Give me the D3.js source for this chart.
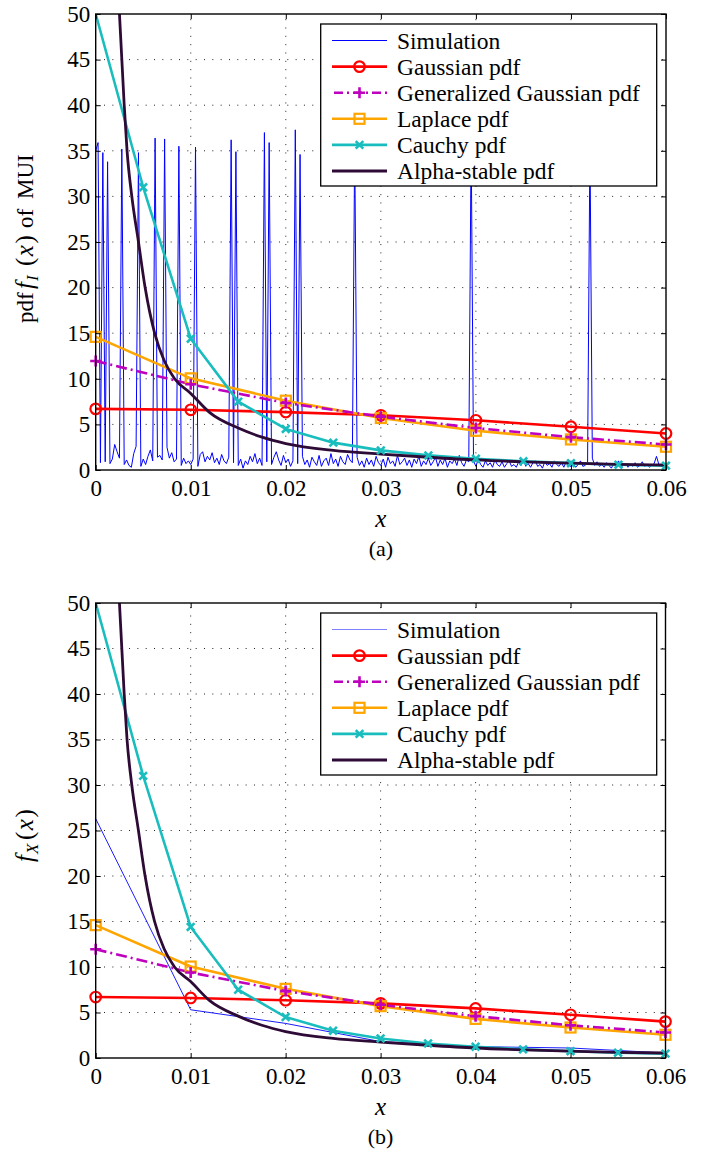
<!DOCTYPE html>
<html><head><meta charset="utf-8">
<script src="https://cdn.jsdelivr.net/npm/d3@7"></script>
<style>
html,body{margin:0;padding:0;background:#fff;}
svg{display:block;}
</style></head><body>
<svg id="chart" width="710" height="1157"></svg>
<script>
// ---------------- data ----------------
const xTicks = [0, 0.01, 0.02, 0.03, 0.04, 0.05, 0.06];
const yTicks = [0, 5, 10, 15, 20, 25, 30, 35, 40, 45, 50];
const legendNames = ["Simulation", "Gaussian pdf", "Generalized Gaussian pdf", "Laplace pdf", "Cauchy pdf", "Alpha-stable pdf"];

const xPdf = [0, 0.01, 0.02, 0.03, 0.04, 0.05, 0.06];
const gaussianPdf = [6.7, 6.6, 6.35, 6.0, 5.45, 4.75, 4.0];
const genGaussianPdf = [11.95, 9.4, 7.35, 5.85, 4.6, 3.6, 2.8];
const laplacePdf = [14.6, 10.05, 7.6, 5.7, 4.3, 3.35, 2.55];

const xCauchy = [0, 0.005, 0.01, 0.015, 0.02, 0.025, 0.03, 0.035, 0.04, 0.045, 0.05, 0.055, 0.06];
const cauchyPdf = [50, 31, 14.4, 7.5, 4.5, 3.0, 2.15, 1.6, 1.24, 0.95, 0.75, 0.58, 0.48];

const xAlpha = [0.0023, 0.0025, 0.003, 0.0033, 0.0038, 0.0045, 0.0052, 0.0062, 0.0072, 0.0083, 0.01, 0.012, 0.015, 0.0175, 0.02, 0.025, 0.03, 0.035, 0.04, 0.045, 0.05, 0.055, 0.06];
const alphaPdf = [55, 50, 40, 35, 30, 25, 20, 15, 12, 10, 8.4, 6.3, 4.6, 3.6, 2.9, 2.15, 1.75, 1.4, 1.1, 0.9, 0.75, 0.62, 0.55];

// simulated MUI histogram (a), sampled every simStep in x
const simStep = 0.00025;
const simA = [
  35.0,35.9,0.8,34.8,0.9,33.8,0.7,1.2,2.8,2.0,
  1.3,35.2,0.6,1.1,0.5,0.3,1.8,2.6,34.8,0.4,
  1.2,0.6,1.5,2.2,1.0,36.4,1.4,1.6,1.1,36.3,
  2.5,1.3,1.9,0.9,1.2,35.5,0.5,1.3,0.7,1.0,
  0.6,1.2,35.4,0.4,1.7,2.0,0.9,1.5,1.1,1.9,
  0.8,1.3,0.6,1.7,1.0,0.7,1.4,36.2,0.8,34.9,
  0.5,1.2,0.2,1.0,0.6,1.5,0.9,1.8,0.7,1.3,
  0.5,37.0,0.9,35.9,0.6,1.4,2.0,1.1,0.5,1.6,
  0.8,1.2,0.4,1.0,37.3,0.7,34.6,1.5,0.6,1.1,
  0.3,1.4,0.9,0.5,1.6,0.4,1.0,1.3,0.5,1.8,
  0.7,1.2,0.4,1.5,0.9,0.6,1.7,1.1,0.8,36.0,
  1.4,0.5,1.0,0.3,1.3,0.6,1.1,0.4,1.5,0.8,
  0.5,1.2,0.3,1.4,0.7,1.0,0.4,1.6,0.6,0.9,
  1.3,0.5,1.1,0.3,1.2,0.7,1.5,0.4,1.0,0.6,
  1.3,0.5,0.9,1.4,0.4,1.1,0.6,1.3,0.3,1.0,
  0.7,1.2,0.5,1.6,0.8,0.4,1.1,0.9,36.5,1.0,
  0.4,1.2,0.6,0.3,1.0,0.5,0.8,0.3,1.1,0.6,
  0.4,0.9,0.3,0.7,1.0,0.4,0.6,0.3,0.9,0.5,
  1.1,0.4,0.7,0.3,0.8,1.0,0.4,0.6,0.2,0.9,
  0.5,0.7,0.3,1.0,0.6,0.4,0.8,0.3,0.9,0.5,
  0.4,0.7,0.3,0.6,1.0,0.4,0.5,0.8,36.0,1.3,
  0.5,0.9,0.4,0.6,0.3,0.8,0.5,0.2,0.7,0.4,
  1.0,0.3,0.5,0.7,0.3,0.6,0.4,0.8,0.3,0.5,
  0.9,0.4,0.6,0.3,0.5,0.7,1.5,0.6,0.4,0.5,
  0.6
];
// simulated pdf (b) at xPdf
const simB = [26.3, 5.3, 3.8, 1.8, 1.25, 1.1, 0.55];

// ---------------- drawing ----------------
const FONT = '"Liberation Serif","Times New Roman",Times,serif';
const svg = d3.select("#chart");

const st = {
  sim:   {color: "#0000ff", width: 1},
  gauss: {color: "#ff0000", width: 2.6, marker: "circle"},
  gg:    {color: "#bf00bf", width: 2.6, marker: "plus", dash: "11,4,2,4"},
  lap:   {color: "#ffa500", width: 2.6, marker: "square"},
  cau:   {color: "#19bdbd", width: 2.6, marker: "x"},
  alp:   {color: "#2e0a36", width: 2.8}
};

function drawMarker(g, type, color, cx, cy) {
  if (type === "circle") {
    g.append("circle").attr("cx", cx).attr("cy", cy).attr("r", 5.3)
      .attr("fill", "none").attr("stroke", color).attr("stroke-width", 2.2);
  } else if (type === "square") {
    g.append("rect").attr("x", cx - 5).attr("y", cy - 5).attr("width", 10).attr("height", 10)
      .attr("fill", "none").attr("stroke", color).attr("stroke-width", 2.2);
  } else if (type === "plus") {
    g.append("path").attr("d", `M${cx-5.5},${cy}H${cx+5.5}M${cx},${cy-5.5}V${cy+5.5}`)
      .attr("fill", "none").attr("stroke", color).attr("stroke-width", 2.6);
  } else if (type === "x") {
    g.append("path").attr("d", `M${cx-3.8},${cy-3.8}L${cx+3.8},${cy+3.8}M${cx-3.8},${cy+3.8}L${cx+3.8},${cy-3.8}`)
      .attr("fill", "none").attr("stroke", color).attr("stroke-width", 2.6);
  }
}

function tickFmt(d) { return d === 0 ? "0" : d3.format(".2f")(d); }

function panel(cfg) {
  const x = d3.scaleLinear().domain([0, 0.06]).range([cfg.left, cfg.right]);
  const y = d3.scaleLinear().domain([0, 50]).range([cfg.bottom, cfg.top]);
  const g = svg.append("g");
  const clipId = "clip" + cfg.id;
  g.append("clipPath").attr("id", clipId).append("rect")
    .attr("x", cfg.left).attr("y", cfg.top)
    .attr("width", cfg.right - cfg.left).attr("height", cfg.bottom - cfg.top);

  // grid
  const grid = g.append("g").attr("stroke", "#222").attr("stroke-width", 1).attr("stroke-dasharray", "1,7.33");
  xTicks.slice(1, -1).forEach(t => grid.append("line")
    .attr("x1", x(t)).attr("x2", x(t)).attr("y1", cfg.bottom).attr("y2", cfg.top));
  yTicks.slice(1, -1).forEach(t => grid.append("line")
    .attr("x1", cfg.left).attr("x2", cfg.right).attr("y1", y(t)).attr("y2", y(t)));

  const line = d3.line().x(d => x(d[0])).y(d => y(d[1]));
  const smooth = d3.line().x(d => x(d[0])).y(d => y(d[1])).curve(d3.curveMonotoneX);
  const data = g.append("g").attr("clip-path", `url(#${clipId})`).attr("fill", "none");
  const markers = g.append("g");

  // simulation
  const simPts = cfg.id === "a" ? simA.map((v, i) => [i * simStep, v]) : xPdf.map((v, i) => [v, simB[i]]);
  data.append("path").attr("d", line(simPts)).attr("stroke", st.sim.color)
    .attr("stroke-width", cfg.id === "a" ? 1 : 0.9).attr("stroke-linejoin", "miter");

  function series(xs, ys, s, gen, markerFilter) {
    const pts = xs.map((v, i) => [v, ys[i]]);
    const p = data.append("path").attr("d", gen(pts)).attr("stroke", s.color).attr("stroke-width", s.width)
      .attr("stroke-linejoin", "round");
    if (s.dash) p.attr("stroke-dasharray", s.dash);
    if (s.marker) {
      pts.forEach(d => { if (!markerFilter || markerFilter(d)) drawMarker(markers, s.marker, s.color, x(d[0]), y(d[1])); });
    }
  }
  series(xPdf, gaussianPdf, st.gauss, line);
  series(xPdf, laplacePdf, st.lap, line);
  series(xPdf, genGaussianPdf, st.gg, line);
  series(xCauchy, cauchyPdf, st.cau, line, d => d[1] < 50);
  series(xAlpha, alphaPdf, st.alp, smooth);

  // axes (ticks inside on all four sides)
  const ax = (gen, tr) => {
    const a = g.append("g").attr("transform", tr).call(gen);
    a.select(".domain").remove();
    a.attr("font-size", 23).attr("font-family", FONT);
    a.selectAll("text").attr("fill", "#000");
    a.selectAll("line").attr("stroke", "#000");
    return a;
  };
  ax(d3.axisBottom(x).tickValues(xTicks).tickFormat(tickFmt).tickSizeInner(-5).tickSizeOuter(0).tickPadding(9.7),
     `translate(0,${cfg.bottom})`);
  ax(d3.axisTop(x).tickValues(xTicks).tickFormat("").tickSizeInner(-5).tickSizeOuter(0), `translate(0,${cfg.top})`);
  ax(d3.axisLeft(y).tickValues(yTicks).tickFormat(d3.format("d")).tickSizeInner(-5).tickSizeOuter(0).tickPadding(5.5),
     `translate(${cfg.left},0)`);
  ax(d3.axisRight(y).tickValues(yTicks).tickFormat("").tickSizeInner(-5).tickSizeOuter(0), `translate(${cfg.right},0)`);

  g.append("rect").attr("x", cfg.left).attr("y", cfg.top)
    .attr("width", cfg.right - cfg.left).attr("height", cfg.bottom - cfg.top)
    .attr("fill", "none").attr("stroke", "#000").attr("stroke-width", 1.4);

  // legend
  const lx = 320.7, ly = cfg.top + 10, lw = 336, lh = 162;
  const lg = g.append("g");
  lg.append("rect").attr("x", lx).attr("y", ly).attr("width", lw).attr("height", lh)
    .attr("fill", "#fff").attr("stroke", "#000").attr("stroke-width", 1.3);
  const keys = ["sim", "gauss", "gg", "lap", "cau", "alp"];
  keys.forEach((k, i) => {
    const s = st[k];
    const cy = ly + 16.5 + i * 26.1;
    const l = lg.append("line").attr("x1", 332).attr("x2", 387).attr("y1", cy).attr("y2", cy)
      .attr("stroke", k === "sim" && cfg.id === "b" ? "#7f7fff" : s.color).attr("stroke-width", s.width);
    if (s.dash) l.attr("stroke-dasharray", "9,4,2,4").attr("stroke-dashoffset", -2);
    if (s.marker) drawMarker(lg, s.marker, s.color, 359.5, cy);
    lg.append("text").attr("x", 397).attr("y", cy + 8).attr("font-family", FONT).attr("font-size", 23.5)
      .attr("fill", "#000").text(legendNames[i]);
  });

  // x label and caption
  const cx = (cfg.left + cfg.right) / 2;
  g.append("text").attr("x", cx).attr("y", cfg.bottom + 57).attr("text-anchor", "middle")
    .attr("font-family", FONT).attr("font-size", 25).attr("font-style", "italic").text("x");
  g.append("text").attr("x", cx).attr("y", cfg.bottom + 86).attr("text-anchor", "middle")
    .attr("font-family", FONT).attr("font-size", 22).text(cfg.caption);

  // y label: rotated; local x = -(global y)
  const yl = g.append("text").attr("transform", "translate(33,0) rotate(-90)")
    .attr("font-family", FONT).attr("font-size", 23).attr("fill", "#000");
  cfg.ylabel(yl);
}

function mathTail(t, at, sub) {
  t.append("tspan").attr("x", -at[0]).attr("font-style", "italic").attr("font-size", 25).text("f");
  t.append("tspan").attr("font-style", "italic").attr("font-size", 17).attr("dy", 5).attr("dx", 1).text(sub);
  t.append("tspan").attr("x", -at[1]).attr("dy", -5).attr("font-size", 25).text("(");
  t.append("tspan").attr("font-style", "italic").attr("font-size", 25).attr("dx", 1.5).text("x");
  t.append("tspan").attr("font-size", 25).attr("dx", 1.5).text(")");
}

panel({
  id: "a", left: 95.7, right: 666, top: 14, bottom: 470, caption: "(a)",
  ylabel: t => {
    t.append("tspan").attr("x", -323).text("pdf");
    mathTail(t, [289, 266], "I");
    t.append("tspan").attr("x", -228).text("of");
    t.append("tspan").attr("x", -199).text("MUI");
  }
});
panel({
  id: "b", left: 95.7, right: 665.5, top: 603, bottom: 1058, caption: "(b)",
  ylabel: t => {
    mathTail(t, [862, 840], "X");
  }
});
</script></body></html>
